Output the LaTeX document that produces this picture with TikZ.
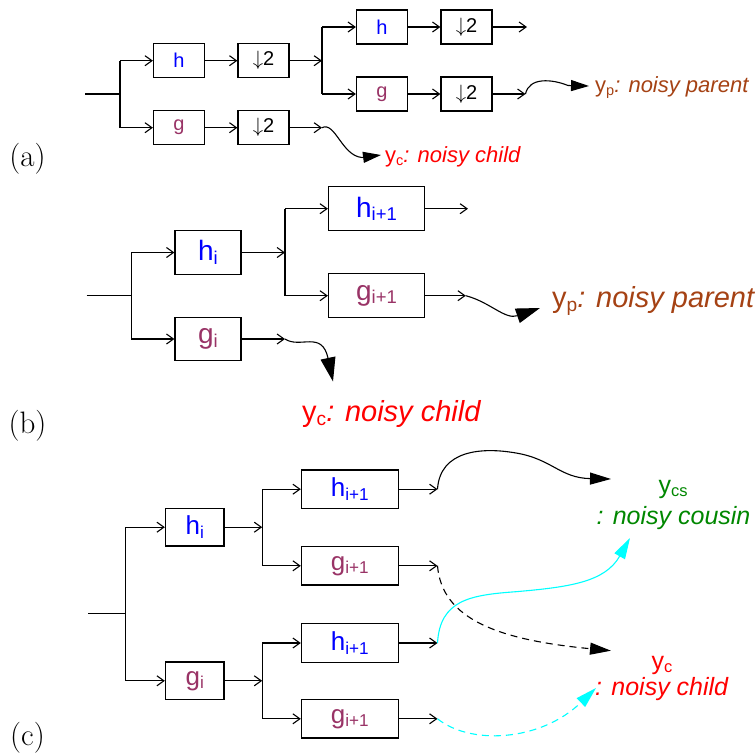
\documentclass[tikz,border=0pt]{standalone}
\usepackage{fontspec}
\usepackage{graphicx}
\usetikzlibrary{arrows.meta}
\newfontfamily\hv{Liberation Sans}

\definecolor{hblue}{RGB}{0,0,255}
\definecolor{gpurple}{RGB}{153,51,102}
\definecolor{pbrown}{RGB}{165,66,20}
\definecolor{cgreen}{RGB}{0,135,0}
\definecolor{cred}{RGB}{255,0,0}
\definecolor{ccyan}{RGB}{0,255,255}

% lowered, reduced subscript as used in the filter labels
\newcommand{\sbs}[1]{\raisebox{-0.13em}{\scalebox{0.66}{#1}}}
\newcommand{\dsamp}{$\downarrow$2}

\tikzset{
  ln/.style={line width=1.1pt},
  con/.style={line width=1.1pt,-{Straight Barb[length=7pt,width=10pt]}},
  bigA/.style={line width=1.1pt,-{Triangle[length=18pt,width=11pt]}},
  bigB/.style={line width=1.1pt,-{Triangle[length=24pt,width=15pt]}},
  bigC/.style={line width=1.1pt,-{Triangle[length=21pt,width=12pt]}},
  dsh/.style={dash pattern=on 7pt off 5pt},
  fbox/.style={draw,line width=1.2pt,inner sep=0pt},
  boxA/.style={fbox,minimum width=51pt,minimum height=34pt,font=\hv\fontsize{20pt}{24pt}\selectfont},
  boxBs/.style={fbox,minimum width=66pt,minimum height=43.6pt,font=\hv\fontsize{28pt}{30pt}\selectfont},
  boxBl/.style={fbox,minimum width=96pt,minimum height=44pt,font=\hv\fontsize{28pt}{30pt}\selectfont},
  boxCs/.style={fbox,minimum width=58.5pt,minimum height=37.7pt,font=\hv\fontsize{26pt}{28pt}\selectfont},
  boxCl/.style={fbox,minimum width=96.8pt,minimum height=38.3pt,font=\hv\fontsize{26pt}{28pt}\selectfont},
  labA/.style={font=\hv\fontsize{22pt}{24pt}\selectfont,inner sep=0pt},
  labB/.style={font=\hv\fontsize{29pt}{32pt}\selectfont,inner sep=0pt},
  labC/.style={font=\hv\fontsize{25pt}{28pt}\selectfont,inner sep=0pt},
  panel/.style={font=\fontsize{31pt}{34pt}\selectfont,inner sep=0pt},
}

\begin{document}
\begin{tikzpicture}[x=1pt,y=-1pt]
\useasboundingbox (0,0) rectangle (756,753);

% ---------------- (a) two-level decomposition with downsampling
\node[panel] (pa) at (27.5,158.5) {(a)};
\coordinate (a0) at (85,94);
\coordinate (ab) at (120,94);
\node[boxA] (ha)  at (179,60.7)   {\color{hblue}h};
\node[boxA] (da1) at (263.5,60.7) {\dsamp};
\coordinate (as) at (322,60.7);
\node[boxA] (ha2) at (382,27)     {\color{hblue}h};
\node[boxA] (da2) at (466.5,27)   {\dsamp};
\coordinate (ao1) at (527,27);
\node[boxA] (ga2) at (382,94)     {\color{gpurple}g};
\node[boxA] (da3) at (466.5,94)   {\dsamp};
\coordinate (ao2) at (525.5,94);
\node[boxA] (ga)  at (179,127.7)  {\color{gpurple}g};
\node[boxA] (da4) at (263.5,127.7){\dsamp};
\coordinate (ao3) at (322,127.7);
\coordinate (tpa) at (589,86);
\coordinate (tca) at (381,155);
\node[labA,anchor=base west,text=pbrown] (ypa) at (595,92.7) {y\sbs{p}\textit{: noisy parent}};
\node[labA,anchor=base west,text=cred] (yca) at (385,162.7) {y\sbs{c}\textit{: noisy child}};

\draw[ln] (a0) -- (ab);
\draw[ln] (ab |- ha) -- (ab |- ga);
\draw[con] (ab |- ha) -- (ha.west);
\draw[con] (ab |- ga) -- (ga.west);
\draw[con] (ha) -- (da1);
\draw[con] (ga) -- (da4);
\draw[con] (da1) -- (as);
\draw[ln] (as |- ha2) -- (as |- ga2);
\draw[con] (as |- ha2) -- (ha2.west);
\draw[con] (as |- ga2) -- (ga2.west);
\draw[con] (ha2) -- (da2);
\draw[con] (ga2) -- (da3);
\draw[con] (da2) -- (ao1);
\draw[con] (da3) -- (ao2);
\draw[con] (da4) -- (ao3);
\draw[bigA] (ao2) .. controls (529,77) and (552,79) .. (568,85.5) -- (tpa);
\draw[bigA] (ao3) .. controls (335,121) and (342,156) .. (362,157.5) -- (tca);

% ---------------- (b) one branch of the tree
\node[panel] (pb) at (27.5,426) {(b)};
\coordinate (b0) at (86.5,295.7);
\coordinate (bb) at (131.4,295.7);
\node[boxBs] (hb)  at (208,252.5)   {\color{hblue}h\sbs{i}};
\node[boxBs] (gb)  at (208,339)     {\color{gpurple}g\sbs{i}};
\coordinate (bs) at (285,252.5);
\node[boxBl] (hb2) at (376.5,208.7) {\color{hblue}h\sbs{i+1}};
\node[boxBl] (gb2) at (376.5,295.7) {\color{gpurple}g\sbs{i+1}};
\coordinate (bo1) at (468,208.7);
\coordinate (bo2) at (465.8,295.7);
\coordinate (bo3) at (285,339);
\coordinate (tpb) at (540,308);
\coordinate (tcb) at (333,381.5);
\node[labB,anchor=base west,text=pbrown] (ypb) at (552,307.5) {y\sbs{p}\textit{: noisy parent}};
\node[labB,anchor=base west,text=cred] (ycb) at (302,421.7) {y\sbs{c}\textit{: noisy child}};

\draw[ln] (b0) -- (bb);
\draw[ln] (bb |- hb) -- (bb |- gb);
\draw[con] (bb |- hb) -- (hb.west);
\draw[con] (bb |- gb) -- (gb.west);
\draw[con] (hb) -- (bs);
\draw[ln] (bs |- hb2) -- (bs |- gb2);
\draw[con] (bs |- hb2) -- (hb2.west);
\draw[con] (bs |- gb2) -- (gb2.west);
\draw[con] (hb2) -- (bo1);
\draw[con] (gb2) -- (bo2);
\draw[con] (gb) -- (bo3);
\draw[bigB] (bo2) .. controls (490,302) and (505,320) .. (tpb);
\draw[bigB] (bo3) .. controls (300,349) and (322,330) .. (tcb);

% ---------------- (c) parent, child and cousin coefficients
\node[panel] (pc) at (27.5,737.5) {(c)};
\coordinate (c0) at (88,613.3);
\coordinate (cb) at (125.8,613.3);
\node[boxCs] (hc)  at (194.7,527.2) {\color{hblue}h\sbs{i}};
\node[boxCs] (gc)  at (194.7,680.8) {\color{gpurple}g\sbs{i}};
\coordinate (cs1) at (262.2,527.2);
\coordinate (cs2) at (262.2,680.8);
\node[boxCl] (hc2) at (349.8,489.2) {\color{hblue}h\sbs{i+1}};
\node[boxCl] (gc2) at (349.8,565.8) {\color{gpurple}g\sbs{i+1}};
\node[boxCl] (hc3) at (349.8,643)   {\color{hblue}h\sbs{i+1}};
\node[boxCl] (gc3) at (349.8,718.8) {\color{gpurple}g\sbs{i+1}};
\coordinate (co1) at (437.5,489.2);
\coordinate (co2) at (437.5,565.8);
\coordinate (co3) at (437.5,643);
\coordinate (co4) at (437.5,718.8);
\coordinate (tcs) at (611,479);
\coordinate (tcc) at (611,650.7);
\coordinate (tcy) at (630,538);
\coordinate (tcd) at (596,688);
\node[labC,anchor=base,text=cgreen] (ycs) at (673,493.3) {y\sbs{cs}};
\node[labC,anchor=base,text=cgreen] (ncs) at (673.5,524.3) {\textit{: noisy cousin}};
\node[labC,anchor=base,text=cred] (ycc) at (662,669) {y\sbs{c}};
\node[labC,anchor=base,text=cred] (ncc) at (662,695) {\textit{: noisy child}};

\draw[ln] (c0) -- (cb);
\draw[ln] (cb |- hc) -- (cb |- gc);
\draw[con] (cb |- hc) -- (hc.west);
\draw[con] (cb |- gc) -- (gc.west);
\draw[con] (hc) -- (cs1);
\draw[con] (gc) -- (cs2);
\draw[ln] (cs1 |- hc2) -- (cs1 |- gc2);
\draw[ln] (cs2 |- hc3) -- (cs2 |- gc3);
\draw[con] (cs1 |- hc2) -- (hc2.west);
\draw[con] (cs1 |- gc2) -- (gc2.west);
\draw[con] (cs2 |- hc3) -- (hc3.west);
\draw[con] (cs2 |- gc3) -- (gc3.west);
\draw[con] (hc2) -- (co1);
\draw[con] (gc2) -- (co2);
\draw[con] (hc3) -- (co3);
\draw[con] (gc3) -- (co4);
\draw[bigC] (co1) .. controls (440,450) and (482,447) .. (516,453)
                  .. controls (552,459) and (560,478) .. (tcs);
\draw[bigC,dsh] (co2) .. controls (442,620) and (500,640) .. (tcc);
\draw[bigC,ccyan] (co3) .. controls (440,600) and (470,595) .. (516,591.7)
                  .. controls (570,587) and (605,582) .. (tcy);
\draw[bigC,ccyan,dsh] (co4) .. controls (470,745) and (540,742) .. (tcd);
\end{tikzpicture}
\end{document}
